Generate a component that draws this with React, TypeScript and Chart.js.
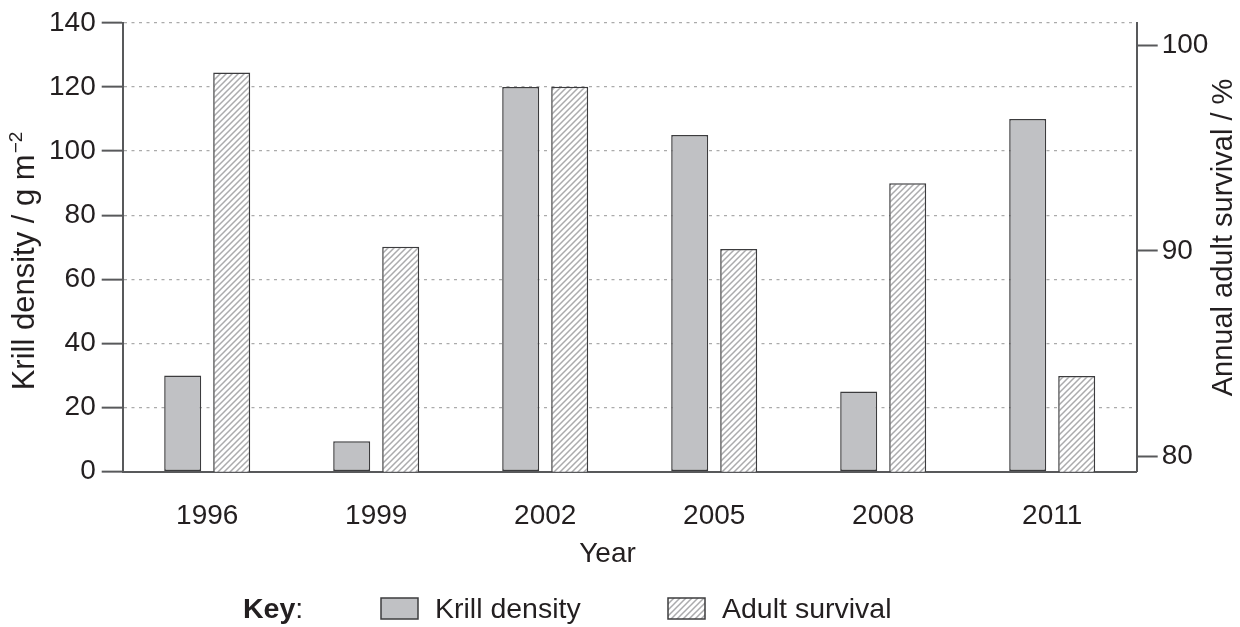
import React, { useEffect, useRef } from "react";
import { Chart, registerables } from "chart.js";

Chart.register(...registerables);

// ---- data ----
const years = ["1996", "1999", "2002", "2005", "2008", "2011"];
const krillDensity = [30, 9.5, 120, 105, 25, 110];
const adultSurvival = [98.7, 90.2, 98.0, 90.1, 93.3, 83.9];
const krillTicks = [0, 20, 40, 60, 80, 100, 120, 140];
const survivalTicks = [80, 90, 100];
const seriesLabels = ["Krill density", "Adult survival"];
const xTitle = "Year";
const yTitle = "Krill density / g m";
const yTitleSup = "\u22122";
const y1Title = "Annual adult survival / %";

const FONT = "'Liberation Sans', Arial, Helvetica, sans-serif";
const TEXT = "#231f20";
const AXIS = "#58595b";
const BAR_GRAY = "#c0c1c4";
const BAR_EDGE = "#3c3c3e";

function makeHatch(): CanvasPattern | string {
  const size = 6;
  const c = document.createElement("canvas");
  c.width = size;
  c.height = size;
  const g = c.getContext("2d");
  if (!g) return "#ffffff";
  g.fillStyle = "#ffffff";
  g.fillRect(0, 0, size, size);
  g.strokeStyle = "#ababad";
  g.lineWidth = 1.5;
  g.lineCap = "square";
  g.beginPath();
  g.moveTo(0, size);
  g.lineTo(size, 0);
  g.moveTo(-1, 1);
  g.lineTo(1, -1);
  g.moveTo(size - 1, size + 1);
  g.lineTo(size + 1, size - 1);
  g.stroke();
  const p = g.createPattern(c, "repeat");
  return p || "#ffffff";
}

export default function App() {
  const ref = useRef<HTMLCanvasElement | null>(null);

  useEffect(() => {
    const canvas = ref.current;
    if (!canvas) return;
    const hatch = makeHatch();

    const annotate = {
      id: "annotate",
      afterDraw(chart: any) {
        const ctx: CanvasRenderingContext2D = chart.ctx;
        ctx.save();
        ctx.fillStyle = TEXT;
        ctx.textBaseline = "alphabetic";

        // x axis title
        ctx.font = `28px ${FONT}`;
        ctx.textAlign = "center";
        ctx.fillText(xTitle, 607.5, 562);

        // left axis title with superscript
        const mainFont = `31px ${FONT}`;
        const supFont = `19px ${FONT}`;
        ctx.font = mainFont;
        const wMain = ctx.measureText(yTitle).width;
        ctx.font = supFont;
        const wSup = ctx.measureText(yTitleSup).width;
        const total = wMain + 1 + wSup;
        ctx.save();
        ctx.translate(34, 261);
        ctx.rotate(-Math.PI / 2);
        ctx.textAlign = "left";
        ctx.font = mainFont;
        ctx.fillText(yTitle, -total / 2, 0);
        ctx.font = supFont;
        ctx.fillText(yTitleSup, -total / 2 + wMain + 1, -12);
        ctx.restore();

        // right axis title (reads bottom-to-top)
        ctx.save();
        ctx.translate(1232, 237.5);
        ctx.rotate(-Math.PI / 2);
        ctx.textAlign = "center";
        ctx.font = `29px ${FONT}`;
        ctx.fillText(y1Title, 0, 0);
        ctx.restore();

        // key
        const base = 618;
        ctx.textAlign = "left";
        ctx.font = `bold 28.5px ${FONT}`;
        ctx.fillText("Key", 243, base);
        const wKey = ctx.measureText("Key").width;
        ctx.font = `28.5px ${FONT}`;
        ctx.fillText(":", 243 + wKey, base);

        ctx.lineWidth = 1.5;
        ctx.strokeStyle = BAR_EDGE;
        ctx.fillStyle = BAR_GRAY;
        ctx.fillRect(381, 598, 37, 21);
        ctx.strokeRect(381, 598, 37, 21);
        ctx.fillStyle = hatch as any;
        ctx.fillRect(668, 598, 37, 21);
        ctx.strokeRect(668, 598, 37, 21);

        ctx.fillStyle = TEXT;
        ctx.fillText(seriesLabels[0], 435, base);
        ctx.fillText(seriesLabels[1], 722, base);
        ctx.restore();
      },
    };

    const tickFont = { family: FONT, size: 28 };

    const chart = new Chart(canvas, {
      type: "bar",
      data: {
        labels: years,
        datasets: [
          {
            label: seriesLabels[0],
            data: krillDensity,
            yAxisID: "y",
            backgroundColor: BAR_GRAY,
            borderColor: BAR_EDGE,
            borderWidth: 1.5,
            borderSkipped: false,
            categoryPercentage: 0.58,
            barPercentage: 0.755,
          },
          {
            label: seriesLabels[1],
            data: adultSurvival,
            yAxisID: "y1",
            backgroundColor: hatch as any,
            borderColor: BAR_EDGE,
            borderWidth: 1.5,
            borderSkipped: false,
            categoryPercentage: 0.58,
            barPercentage: 0.755,
          },
        ],
      },
      options: {
        responsive: false,
        animation: false,
        layout: { padding: { top: 21, left: 0, right: 0, bottom: 0 } },
        plugins: {
          legend: { display: false },
          tooltip: { enabled: false },
        },
        scales: {
          x: {
            grid: { display: false, drawTicks: false },
            border: { display: true, color: AXIS, width: 2 },
            ticks: { font: tickFont, color: TEXT, padding: 28, maxRotation: 0, autoSkip: false },
            afterFit: (s: any) => {
              s.height = 155.3;
            },
          },
          y: {
            position: "left",
            min: 0,
            max: 140,
            afterBuildTicks: (s: any) => {
              s.ticks = krillTicks.map((v) => ({ value: v }));
            },
            grid: {
              color: "#ababab",
              lineWidth: 1.3,
              drawTicks: true,
              tickLength: 21,
              tickColor: AXIS,
              tickWidth: 2,
              tickBorderDash: [],
            },
            border: { display: true, color: AXIS, width: 2, dash: [3, 4.5] },
            ticks: { font: tickFont, color: TEXT, padding: 6 },
            afterFit: (s: any) => {
              s.width = 122.7;
            },
          },
          y1: {
            position: "right",
            min: 79.24,
            max: 101.12,
            afterBuildTicks: (s: any) => {
              s.ticks = survivalTicks.map((v) => ({ value: v }));
            },
            grid: {
              drawOnChartArea: false,
              drawTicks: true,
              tickLength: 21,
              tickColor: AXIS,
              tickWidth: 2,
              tickBorderDash: [],
            },
            border: { display: true, color: AXIS, width: 2 },
            ticks: { font: tickFont, color: TEXT, padding: 4 },
            afterFit: (s: any) => {
              s.width = 103.3;
            },
          },
        },
      },
      plugins: [annotate],
    } as any);

    return () => {
      chart.destroy();
    };
  }, []);

  return (
    <div style={{ position: "fixed", left: 0, top: 0, width: 1240, height: 627, background: "#ffffff" }}>
      <canvas ref={ref} width={1240} height={627} style={{ width: 1240, height: 627, display: "block" }} />
    </div>
  );
}
